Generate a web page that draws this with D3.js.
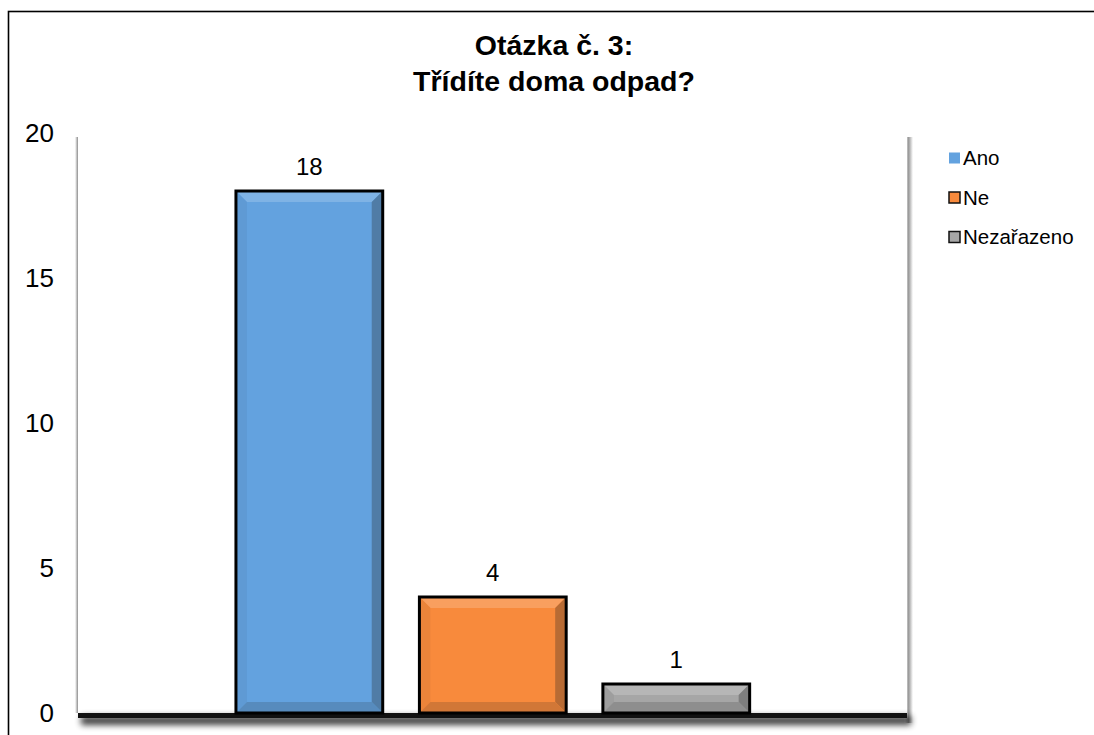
<!DOCTYPE html>
<html><head><meta charset="utf-8">
<script src="https://cdn.jsdelivr.net/npm/d3@7/dist/d3.min.js"></script>
<style>body{margin:0;background:#fff;}svg{display:block;font-family:"Liberation Sans",Arial,sans-serif;}</style>
</head><body>
<svg id="c" width="1094" height="735"></svg>
<script>
const categories = ["Ano", "Ne", "Nezařazeno"];
const values = [18, 4, 1];
const yTicks = [0, 5, 10, 15, 20];
const titleLines = ["Otázka č. 3:", "Třídíte doma odpad?"];
const colors = ["#63a2df", "#f88a3c", "#a6a6a6"];

const svg = d3.select("#c");
const plotL = 78, plotR = 907, plotTop = 137;
const y = d3.scaleLinear().domain([0, 20]).range([713, 133]);
const x = d3.scaleBand().domain(categories).range([217.6, 768]).paddingInner(0.2).paddingOuter(0.1);

const defs = svg.append("defs");
const blur = defs.append("filter").attr("id","blur").attr("x","-20%").attr("y","-100%").attr("width","140%").attr("height","400%");
blur.append("feGaussianBlur").attr("stdDeviation", 3);
const wallG = defs.append("linearGradient").attr("id","wall").attr("x1",0).attr("x2",1);
wallG.append("stop").attr("offset",0).attr("stop-color","#fff");
wallG.append("stop").attr("offset",0.45).attr("stop-color","#999");
wallG.append("stop").attr("offset",1).attr("stop-color","#fff");

// outer border
svg.append("rect").attr("x",8.5).attr("y",11.5).attr("width",1200).attr("height",900)
  .attr("fill","#fff").attr("stroke","#000").attr("stroke-width",1.6);

// walls
svg.append("rect").attr("x",plotL-3).attr("y",plotTop).attr("width",6).attr("height",y(0)-plotTop).attr("fill","url(#wall)");
svg.append("rect").attr("x",plotR-2).attr("y",plotTop).attr("width",8).attr("height",y(0)-plotTop+10).attr("fill","url(#wall)");
svg.append("rect").attr("x",plotL).attr("y",plotTop).attr("width",plotR-plotL).attr("height",y(0)-plotTop).attr("fill","#fff");

// floor with shadow
svg.append("rect").attr("x",plotL+3).attr("y",y(0)+3).attr("width",plotR-plotL+1).attr("height",9).attr("fill","#000").attr("opacity",0.75).attr("filter","url(#blur)");
svg.append("rect").attr("x",plotL).attr("y",y(0)).attr("width",plotR-plotL).attr("height",5).attr("fill","#111");

// title
svg.append("text").attr("text-anchor","middle").attr("font-weight","bold").attr("font-size",28.5)
  .selectAll("tspan").data(titleLines).join("tspan").attr("x",554).attr("y",(d,i)=>55+i*36).text(d=>d);

// y tick labels
svg.append("g").selectAll("text").data(yTicks).join("text")
  .attr("x",54).attr("y",d=>y(d)).attr("dy","0.36em").attr("text-anchor","end").attr("font-size",26).text(d=>d);

// bars with bevel
const mix = (c, t, k) => d3.interpolateRgb(c, t)(k);
const bev = 11;
const bars = svg.append("g").selectAll("g").data(categories).join("g");
bars.each(function(cat, i){
  const g = d3.select(this);
  const x0 = x(cat), x1 = x(cat) + x.bandwidth(), y0 = y(values[i]), y1 = y(0);
  const c = colors[i];
  g.append("rect").attr("x",x0).attr("y",y0).attr("width",x1-x0).attr("height",y1-y0).attr("fill",c);
  const b = Math.min(bev, (y1-y0)/2);
  const poly = (pts, fill) => g.append("polygon").attr("points", pts.map(p=>p.join(",")).join(" ")).attr("fill", fill);
  poly([[x0,y0],[x1,y0],[x1-b,y0+b],[x0+b,y0+b]], mix(c, "#fff", 0.18));
  poly([[x1,y0],[x1,y1],[x1-b,y1-b],[x1-b,y0+b]], mix(c, "#222", 0.3));
  poly([[x0,y0],[x0+b,y0+b],[x0+b,y1-b],[x0,y1]], mix(c, "#222", 0.06));
  poly([[x0,y1],[x0+b,y1-b],[x1-b,y1-b],[x1,y1]], mix(c, "#222", 0.18));
  g.append("rect").attr("x",x0).attr("y",y0).attr("width",x1-x0).attr("height",y1-y0)
    .attr("fill","none").attr("stroke","#000").attr("stroke-width",3);
  g.append("text").attr("x",(x0+x1)/2).attr("y",y0-25).attr("dy","0.36em").attr("text-anchor","middle").attr("font-size",24).text(values[i]);
});

// legend
const leg = svg.append("g").selectAll("g").data(categories).join("g")
  .attr("transform",(d,i)=>`translate(949,${158+i*39.5})`);
leg.append("rect").attr("x",0).attr("y",-5.5).attr("width",11).attr("height",11)
  .attr("fill",(d,i)=>colors[i]).attr("stroke",(d,i)=> i===0 ? "none" : "#111").attr("stroke-width",1.5);
leg.append("text").attr("x",14).attr("y",0).attr("dy","0.36em").attr("font-size",20.5).text(d=>d);
</script>
</body></html>
